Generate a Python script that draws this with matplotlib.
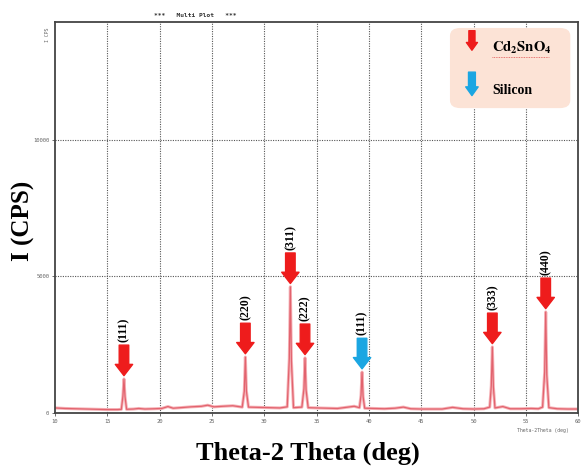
import matplotlib.pyplot as plt
from matplotlib.patches import FancyBboxPatch

plt.rcParams['mathtext.fontset'] = 'stix'

# 2-theta / intensity points (baseline + peaks)
two_theta = [10.0, 11.0, 12.0, 13.0, 14.0, 15.0, 16.0, 16.35, 16.5, 16.6, 16.7, 16.85,
             17.5, 18.0, 18.6, 19.5, 20.2, 20.8, 21.3, 22.0, 23.0, 24.0, 24.6, 25.2,
             26.0, 27.0, 27.9, 28.1, 28.2, 28.3, 28.5, 29.5, 30.5, 31.5, 32.2, 32.4,
             32.5, 32.6, 32.8, 33.6, 33.8, 33.9, 34.0, 34.2, 35.0, 36.0, 37.0, 38.0,
             38.6, 39.1, 39.25, 39.35, 39.45, 39.6, 40.5, 41.5, 42.5, 43.3, 44.0, 45.0,
             46.0, 47.0, 48.0, 49.0, 50.0, 51.0, 51.55, 51.7, 51.8, 51.9, 52.05, 52.8,
             53.5, 54.5, 55.5, 56.2, 56.6, 56.8, 56.9, 57.0, 57.2, 58.0, 59.0, 60.0]
intensity = [190, 170, 160, 150, 140, 130, 130, 140, 620, 1250, 600, 140,
             150, 170, 150, 160, 170, 240, 180, 200, 230, 250, 290, 230,
             250, 270, 220, 800, 2050, 800, 220, 210, 200, 190, 230, 2000,
             4620, 1900, 200, 220, 900, 2020, 850, 200, 190, 180, 170, 220,
             250, 200, 650, 1500, 600, 180, 170, 160, 180, 220, 160, 150,
             150, 150, 210, 160, 150, 160, 220, 1000, 2420, 950, 190, 240,
             160, 160, 170, 160, 220, 1500, 3700, 1400, 200, 160, 150, 150]

# peak markers: position, peak height, label, phase
peak_pos = [16.6, 28.2, 32.5, 33.9, 39.35, 51.8, 56.9]
peak_height = [1250, 2050, 4620, 2020, 1500, 2420, 3700]
peak_labels = ['(111)', '(220)', '(311)', '(222)', '(111)', '(333)', '(440)']
peak_phase = ['Cd', 'Cd', 'Cd', 'Cd', 'Si', 'Cd', 'Cd']

x_ticks = [10, 15, 20, 25, 30, 35, 40, 45, 50, 55, 60]
y_ticks = [0, 5000, 10000]

red = '#ee1c1c'
blue = '#1ba6e2'
grid_col = '#555555'

fig = plt.figure(figsize=(5.84, 4.70), dpi=100)
ax = fig.add_axes([0.094, 0.121, 0.896, 0.832])

ax.plot(two_theta, intensity, color='#f6b3b8', lw=2.2, solid_joinstyle='round')
ax.plot(two_theta, intensity, color='#e2636e', lw=0.9, solid_joinstyle='round')

ax.set_xlim(10, 60)
ax.set_ylim(0, 14300)
ax.set_xticks(x_ticks)
ax.set_xticklabels([str(t) for t in x_ticks], fontsize=4, color='#666666',
                   family='DejaVu Sans Mono')
ax.set_yticks(y_ticks)
ax.set_yticklabels([str(t) for t in y_ticks], fontsize=4, color='#666666',
                   family='DejaVu Sans Mono')
ax.tick_params(length=2, width=0.6, color=grid_col, pad=2)

for t in x_ticks[1:-1]:
    ax.axvline(t, color=grid_col, lw=0.8, ls=(0, (1, 1.2)), zorder=0)
for t in y_ticks[1:]:
    ax.axhline(t, color=grid_col, lw=0.8, ls=(0, (1, 1.2)), zorder=0)

for s in ax.spines.values():
    s.set_color('#444444')
    s.set_linewidth(1.3)

# arrows + miller indices above the peaks
for x, h, lab, ph in zip(peak_pos, peak_height, peak_labels, peak_phase):
    c = blue if ph == 'Si' else red
    ax.annotate('', xy=(x, h + 120), xytext=(0, 22), textcoords='offset points',
                arrowprops=dict(arrowstyle='simple,head_width=1.0,head_length=0.65,tail_width=0.55',
                                mutation_scale=12.5, fc=c, ec=c, shrinkA=0, shrinkB=0))
    ax.annotate(lab, xy=(x, h + 120), xytext=(0, 24), textcoords='offset points',
                rotation=90, ha='center', va='bottom', fontsize=8.5,
                fontweight='bold', family='Liberation Serif')

# legend box
box = FancyBboxPatch((0.755, 0.78), 0.23, 0.205, boxstyle='round,pad=0,rounding_size=0.02',
                     transform=ax.transAxes, fc='#fce3d6', ec='none', zorder=3)
ax.add_patch(box)
ax.annotate('', xy=(0.797, 0.928), xytext=(0.797, 0.978), xycoords='axes fraction',
            arrowprops=dict(arrowstyle='simple,head_width=1.0,head_length=0.7,tail_width=0.55',
                            mutation_scale=8, fc=red, ec=red, shrinkA=0, shrinkB=0), zorder=4)
ax.annotate('', xy=(0.797, 0.812), xytext=(0.797, 0.872), xycoords='axes fraction',
            arrowprops=dict(arrowstyle='simple,head_width=1.0,head_length=0.7,tail_width=0.55',
                            mutation_scale=9, fc=blue, ec=blue, shrinkA=0, shrinkB=0), zorder=4)
ax.text(0.836, 0.935, r'$\mathbf{Cd_2SnO_4}$', transform=ax.transAxes, fontsize=10.5,
        va='center', ha='left', zorder=4)
ax.plot([0.836, 0.945], [0.912, 0.912], transform=ax.transAxes, color='#e05050',
        lw=0.6, ls=(0, (1, 1)), zorder=4)
ax.text(0.836, 0.825, 'Silicon', transform=ax.transAxes, fontsize=10, fontweight='bold',
        family='Liberation Serif', va='center', ha='left', zorder=4)

# instrument-style small annotations
fig.text(0.335, 0.968, '***   Multi Plot   ***', fontsize=4.5, fontweight='bold',
         family='DejaVu Sans Mono', ha='center', va='center', color='#333333')
fig.text(0.081, 0.925, 'I CPS', fontsize=3.5, rotation=90, family='DejaVu Sans Mono',
         ha='center', va='center', color='#666666')
fig.text(0.93, 0.085, 'Theta-2Theta (deg)', fontsize=3.5, family='DejaVu Sans Mono',
         ha='center', va='center', color='#666666')

fig.text(0.527, 0.035, 'Theta-2 Theta (deg)', fontsize=19, fontweight='bold',
         family='Liberation Serif', ha='center', va='center')
fig.text(0.04, 0.53, 'I (CPS)', fontsize=18, fontweight='bold', rotation=90,
         family='Liberation Serif', ha='center', va='center')

fig.savefig('out.png', dpi=100)
